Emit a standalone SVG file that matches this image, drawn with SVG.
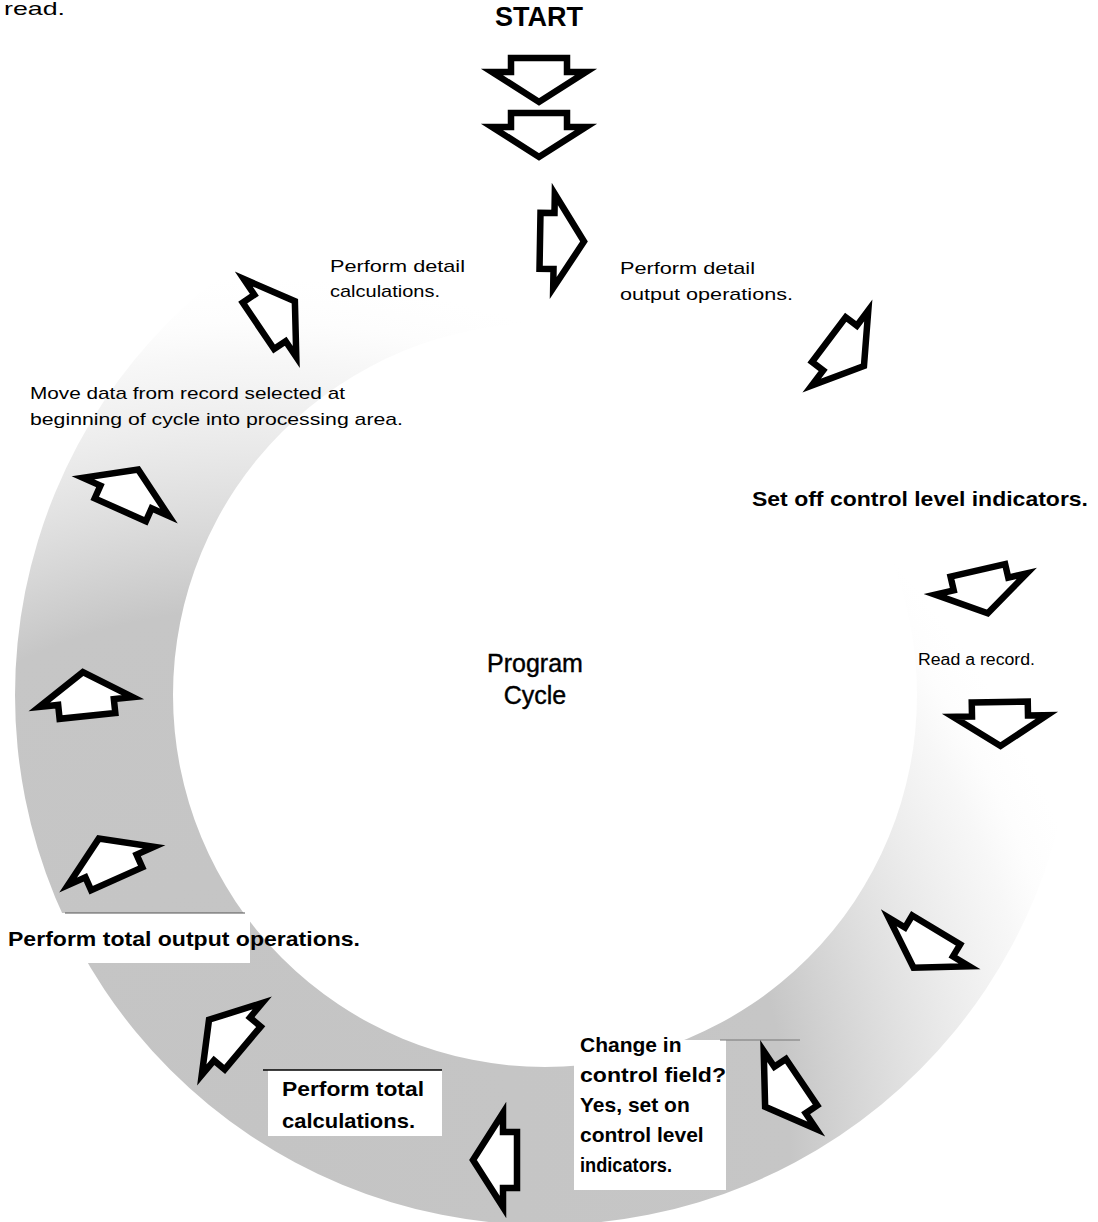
<svg xmlns="http://www.w3.org/2000/svg" width="1098" height="1222" viewBox="0 0 1098 1222">
<defs>
<style>
.t{font-family:"Liberation Sans",Arial,sans-serif;fill:#000}
.n{font-size:17px}
.b{font-size:21px;font-weight:bold}
.ar{fill:#fff;stroke:#000;stroke-width:6.5;stroke-linejoin:miter;stroke-miterlimit:10}
</style>
<radialGradient id="fade" gradientUnits="userSpaceOnUse" cx="250" cy="1150" r="900">
<stop offset="0" stop-color="#c4c4c4" stop-opacity="1"/>
<stop offset="0.6" stop-color="#c6c6c6" stop-opacity="1"/>
<stop offset="0.73" stop-color="#cccccc" stop-opacity="0.6"/>
<stop offset="0.82" stop-color="#d2d2d2" stop-opacity="0.35"/>
<stop offset="0.88" stop-color="#d8d8d8" stop-opacity="0.2"/>
<stop offset="0.92" stop-color="#e0e0e0" stop-opacity="0.07"/>
<stop offset="0.97" stop-color="#eeeeee" stop-opacity="0"/>
</radialGradient>
<polygon id="arw" points="-28,-14 28,-14 28,0 47,0 0,30 -47,0 -28,0"/>
</defs>
<rect width="1098" height="1222" fill="#fff"/>
<g id="ring">
<path d="M15,695 A530,530 0 1,0 1075,695 A530,530 0 1,0 15,695 Z M173,695 A372,372 0 1,1 917,695 A372,372 0 1,1 173,695 Z" fill="url(#fade)" fill-rule="evenodd"/>
<rect x="0" y="913" width="250" height="50" fill="#fff"/>
<line x1="65" y1="913" x2="245" y2="913" stroke="#555" stroke-width="1"/>
<rect x="268" y="1070" width="174" height="66" fill="#fff"/>
<line x1="263" y1="1070" x2="442" y2="1070" stroke="#000" stroke-width="1.5"/>
<rect x="574" y="1040" width="152" height="150" fill="#fff"/>
<line x1="720" y1="1040" x2="800" y2="1040" stroke="#777" stroke-width="1"/>
</g>
<g id="connectors">
<use href="#arw" class="ar" transform="translate(539,72)"/>
<use href="#arw" class="ar" transform="translate(539,127)"/>
<use href="#arw" class="ar" transform="translate(554,241) rotate(-89)"/>
<use href="#arw" class="ar" transform="translate(270,318) rotate(-124)"/>
<use href="#arw" class="ar" transform="translate(840,348) rotate(-53)"/>
<use href="#arw" class="ar" transform="translate(981,584) rotate(-13)"/>
<use href="#arw" class="ar" transform="translate(1000,716) rotate(-1)"/>
<use href="#arw" class="ar" transform="translate(929,942) rotate(31)"/>
<use href="#arw" class="ar" transform="translate(790,1090) rotate(56)"/>
<use href="#arw" class="ar" transform="translate(503,1160) rotate(90)"/>
<use href="#arw" class="ar" transform="translate(232,1039) rotate(130)"/>
<use href="#arw" class="ar" transform="translate(111,866) rotate(156)"/>
<use href="#arw" class="ar" transform="translate(86,702) rotate(174)"/>
<use href="#arw" class="ar" transform="translate(126,497) rotate(-156)"/>
</g>
<g id="n-read"><text class="t" x="4" y="15" font-size="19" textLength="61" lengthAdjust="spacingAndGlyphs">read.</text></g>
<g id="n-start"><text class="t" x="539" y="26" font-size="27" font-weight="bold" text-anchor="middle">START</text></g>
<g id="n-calc"><text class="t n" x="330" y="272" textLength="135" lengthAdjust="spacingAndGlyphs">Perform detail</text><text class="t n" x="330" y="297" textLength="110" lengthAdjust="spacingAndGlyphs">calculations.</text></g>
<g id="n-output"><text class="t n" x="620" y="274" textLength="135" lengthAdjust="spacingAndGlyphs">Perform detail</text><text class="t n" x="620" y="300" textLength="173" lengthAdjust="spacingAndGlyphs">output operations.</text></g>
<g id="n-move"><text class="t n" x="30" y="399" textLength="315" lengthAdjust="spacingAndGlyphs">Move data from record selected at</text><text class="t n" x="30" y="425" textLength="373" lengthAdjust="spacingAndGlyphs">beginning of cycle into processing area.</text></g>
<g id="n-setoff"><text class="t b" x="752" y="506" textLength="336" lengthAdjust="spacingAndGlyphs">Set off control level indicators.</text></g>
<g id="n-readrec"><text class="t" x="918" y="665" font-size="16" textLength="117" lengthAdjust="spacingAndGlyphs">Read a record.</text></g>
<g id="n-cycle"><text class="t" x="535" y="672" font-size="25" text-anchor="middle" stroke="#000" stroke-width="0.4">Program</text><text class="t" x="535" y="704" font-size="25" text-anchor="middle" stroke="#000" stroke-width="0.4">Cycle</text></g>
<g id="n-totout"><text class="t b" x="8" y="946" textLength="352" lengthAdjust="spacingAndGlyphs">Perform total output operations.</text></g>
<g id="n-totcalc"><text class="t b" x="282" y="1096" textLength="142" lengthAdjust="spacingAndGlyphs">Perform total</text><text class="t b" x="282" y="1128" textLength="133" lengthAdjust="spacingAndGlyphs">calculations.</text></g>
<g id="n-change"><text class="t b" x="580" y="1052">Change in</text><text class="t b" x="580" y="1082" textLength="146" lengthAdjust="spacingAndGlyphs">control field?</text><text class="t b" x="580" y="1112">Yes, set on</text><text class="t b" x="580" y="1142">control level</text><text class="t b" x="580" y="1172" textLength="92" lengthAdjust="spacingAndGlyphs">indicators.</text></g>
</svg>
